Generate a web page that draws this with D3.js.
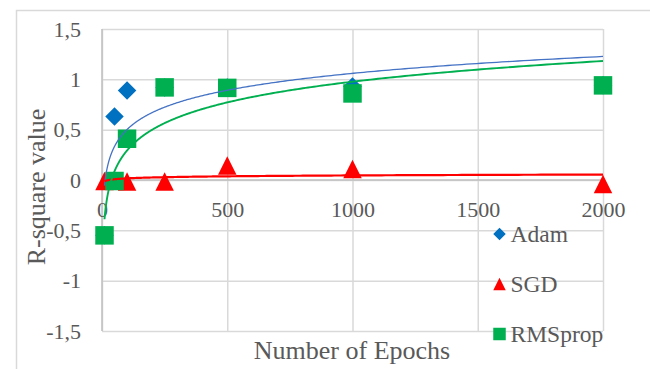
<!DOCTYPE html>
<html>
<head>
<meta charset="utf-8">
<script src="https://cdn.jsdelivr.net/npm/d3@7"></script>
<style>
  html, body { margin: 0; padding: 0; background: #fff; }
  svg { display: block; }
</style>
</head>
<body>
<svg id="chart" width="650" height="369"></svg>
<script>
// Training epochs evaluated
const epochs = [10, 50, 100, 250, 500, 1000, 2000];
// R-square per optimizer at each epoch count
const adam    = [-0.55, 0.63, 0.89, 0.92, 0.92, 0.93, 0.94];
const sgd     = [-0.01, 0.00, -0.015, -0.015, 0.145, 0.11, -0.04];
const rmsprop = [-0.55, -0.01, 0.41, 0.92, 0.915, 0.86, 0.94];

const seriesNames = ["Adam", "SGD", "RMSprop"];
const xTicks = [0, 500, 1000, 1500, 2000];
const yTicks = [-1.5, -1, -0.5, 0, 0.5, 1, 1.5];

const FONT = "'Liberation Serif', 'Times New Roman', serif";
const TEXT = "#595959";

const series = [
  { name: seriesNames[0], values: adam,    marker: "diamond",  fill: "#0070C0", line: "#4472C4", lw: 1.3 },
  { name: seriesNames[1], values: sgd,     marker: "triangle", fill: "#FF0000", line: "#FF0000", lw: 2.2 },
  { name: seriesNames[2], values: rmsprop, marker: "square",   fill: "#00B050", line: "#00B050", lw: 1.9 }
];

const svg = d3.select("#chart");
const W = 650, H = 369;

// chart area frame
svg.append("rect")
  .attr("x", 16.5).attr("y", 10.5)
  .attr("width", W).attr("height", H)
  .attr("fill", "#fff").attr("stroke", "#D9D9D9").attr("stroke-width", 1.5);

const plot = { left: 102, right: 603, top: 29, bottom: 331 };
const x = d3.scaleLinear().domain([0, 2000]).range([plot.left, plot.right]);
const y = d3.scaleLinear().domain([-1.5, 1.5]).range([plot.bottom, plot.top]);

const locale = d3.formatLocale({ decimal: ",", thousands: "", grouping: [3], currency: ["", ""], minus: "-" });
const fmt = locale.format("~g");

// gridlines
const gridColor = "#D9D9D9";
const gy = svg.append("g").attr("transform", `translate(${plot.left},0)`)
  .call(d3.axisLeft(y).tickValues(yTicks).tickSize(-(plot.right - plot.left)).tickFormat(""));
gy.select(".domain").remove();
gy.selectAll("line").attr("stroke", gridColor).attr("stroke-width", 1.5);

const gx = svg.append("g").attr("transform", `translate(0,${plot.bottom})`)
  .call(d3.axisBottom(x).tickValues(xTicks).tickSize(-(plot.bottom - plot.top)).tickFormat(""));
gx.select(".domain").remove();
gx.selectAll("line").attr("stroke", gridColor).attr("stroke-width", 1.5);

// axis lines (x axis crosses at y = 0)
svg.append("line")
  .attr("x1", plot.left).attr("x2", plot.right)
  .attr("y1", y(0)).attr("y2", y(0))
  .attr("stroke", "#BFBFBF").attr("stroke-width", 1.5);
svg.append("line")
  .attr("x1", plot.left).attr("x2", plot.left)
  .attr("y1", plot.top).attr("y2", plot.bottom)
  .attr("stroke", "#BFBFBF").attr("stroke-width", 1.5);

// tick labels
const ay = svg.append("g").attr("transform", `translate(${plot.left},0)`)
  .call(d3.axisLeft(y).tickValues(yTicks).tickSize(0).tickPadding(21).tickFormat(fmt))
  .attr("font-family", FONT).attr("font-size", 22);
ay.select(".domain").remove();
ay.selectAll("text").attr("fill", TEXT);

const ax = svg.append("g").attr("transform", `translate(0,${y(0)})`)
  .call(d3.axisBottom(x).tickValues(xTicks).tickSize(0).tickFormat(fmt))
  .attr("font-family", FONT).attr("font-size", 22);
ax.select(".domain").remove();
ax.selectAll("text").attr("y", 37).attr("dy", 0).attr("fill", TEXT);

// axis titles
svg.append("text")
  .attr("x", 352).attr("y", 359)
  .attr("text-anchor", "middle")
  .attr("font-family", FONT).attr("font-size", 26).attr("fill", TEXT)
  .text("Number of Epochs");
svg.append("text")
  .attr("transform", "translate(45,187) rotate(-90)")
  .attr("text-anchor", "middle")
  .attr("font-family", FONT).attr("font-size", 26).attr("fill", TEXT)
  .text("R-square value");

// marker shapes, s = full width
function markerPath(type, s) {
  const h = s / 2;
  if (type === "diamond") return `M0,${-h}L${h},0L0,${h}L${-h},0Z`;
  if (type === "triangle") return `M0,${-h}L${h},${h}L${-h},${h}Z`;
  return `M${-h},${-h}H${h}V${h}H${-h}Z`;
}

// data markers
series.forEach(s => {
  svg.append("g").selectAll("path")
    .data(epochs.map((e, i) => [e, s.values[i]]))
    .join("path")
    .attr("transform", d => `translate(${x(d[0])},${y(d[1])})`)
    .attr("d", markerPath(s.marker, 18.5))
    .attr("fill", s.fill);
});

// logarithmic trendlines: y = a*ln(x) + b, least squares
function logFit(xs, ys) {
  const lx = xs.map(Math.log);
  const mx = d3.mean(lx), my = d3.mean(ys);
  let sxy = 0, sxx = 0;
  lx.forEach((v, i) => { sxy += (v - mx) * (ys[i] - my); sxx += (v - mx) * (v - mx); });
  const a = sxy / sxx;
  return { a, b: my - a * mx };
}

const line = d3.line().x(d => x(d[0])).y(d => y(d[1]));
series.forEach(s => {
  const f = logFit(epochs, s.values);
  const lo = d3.min(epochs), hi = d3.max(epochs);
  const pts = d3.range(0, 401).map(k => {
    const xv = Math.exp(Math.log(lo) + (Math.log(hi) - Math.log(lo)) * k / 400);
    return [xv, f.a * Math.log(xv) + f.b];
  });
  svg.append("path")
    .attr("d", line(pts))
    .attr("fill", "none")
    .attr("stroke", s.line)
    .attr("stroke-width", s.lw);
});

// legend
const legend = svg.append("g").attr("font-family", FONT).attr("font-size", 23.5);
series.forEach((s, i) => {
  const cy = 234 + i * 50;
  legend.append("path")
    .attr("transform", `translate(499.5,${cy})`)
    .attr("d", markerPath(s.marker, 12.5))
    .attr("fill", s.fill);
  legend.append("text")
    .attr("x", 510.5).attr("y", cy + 7.5)
    .attr("fill", TEXT)
    .text(s.name);
});
</script>
</body>
</html>
